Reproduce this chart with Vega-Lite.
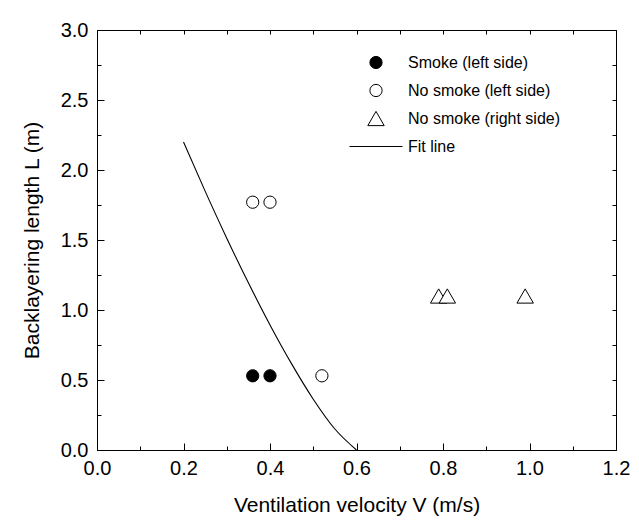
{
  "$schema": "https://vega.github.io/schema/vega-lite/v6.json",
  "width": 519,
  "height": 420,
  "autosize": {"type": "none"},
  "padding": {"left": 97, "top": 30, "right": 23, "bottom": 80},
  "background": "white",
  "config": {
    "font": "Liberation Sans",
    "view": {"stroke": "black", "strokeWidth": 1},
    "axis": {
      "grid": false,
      "domain": false,
      "tickColor": "black",
      "tickWidth": 1,
      "labelColor": "black",
      "titleColor": "black",
      "labelFont": "Liberation Sans",
      "titleFont": "Liberation Sans",
      "titleFontWeight": "normal",
      "labelFlush": false,
      "labelOverlap": false
    }
  },
  "layer": [
    {
      "data": {
        "values": [
          {"v": 0.2, "L": 2.2},
          {"v": 0.25, "L": 1.849},
          {"v": 0.3, "L": 1.513},
          {"v": 0.35, "L": 1.194},
          {"v": 0.4, "L": 0.893},
          {"v": 0.45, "L": 0.615},
          {"v": 0.5, "L": 0.363},
          {"v": 0.55, "L": 0.15},
          {"v": 0.6, "L": 0.0}
        ]
      },
      "mark": {"type": "line", "color": "black", "strokeWidth": 1.1, "interpolate": "monotone"},
      "encoding": {
        "x": {
          "field": "v",
          "type": "quantitative",
          "scale": {"domain": [0, 1.2], "nice": false, "zero": false},
          "axis": {
            "orient": "bottom",
            "values": [0, 0.1, 0.2, 0.3, 0.4, 0.5, 0.6, 0.7, 0.8, 0.9, 1.0, 1.1, 1.2],
            "tickSize": {"condition": {"test": "round(datum.value*10)%2==0", "value": -7}, "value": -4},
            "labelExpr": "round(datum.value*10)%2==0 ? format(datum.value,'.1f') : ''",
            "labelFontSize": 20,
            "labelPadding": 15,
            "title": "Ventilation velocity V (m/s)",
            "titleFontSize": 21,
            "titlePadding": 13
          }
        },
        "y": {
          "field": "L",
          "type": "quantitative",
          "scale": {"domain": [0, 3], "nice": false, "zero": false},
          "axis": {
            "orient": "left",
            "values": [0, 0.25, 0.5, 0.75, 1.0, 1.25, 1.5, 1.75, 2.0, 2.25, 2.5, 2.75, 3.0],
            "tickSize": {"condition": {"test": "round(datum.value*4)%2==0", "value": -7}, "value": -4},
            "labelExpr": "round(datum.value*4)%2==0 ? format(datum.value,'.1f') : ''",
            "labelFontSize": 20,
            "labelPadding": 16,
            "title": "Backlayering length L (m)",
            "titleFontSize": 21,
            "titlePadding": 18
          }
        }
      }
    },
    {
      "data": {
        "values": [
          {"v": 0.36, "L": 0.53, "series": "Smoke (left side)"},
          {"v": 0.40, "L": 0.53, "series": "Smoke (left side)"},
          {"v": 0.36, "L": 1.77, "series": "No smoke (left side)"},
          {"v": 0.40, "L": 1.77, "series": "No smoke (left side)"},
          {"v": 0.52, "L": 0.53, "series": "No smoke (left side)"},
          {"v": 0.79, "L": 1.1, "series": "No smoke (right side)"},
          {"v": 0.81, "L": 1.1, "series": "No smoke (right side)"},
          {"v": 0.99, "L": 1.1, "series": "No smoke (right side)"}
        ]
      },
      "mark": {"type": "point", "stroke": "black", "strokeWidth": 1, "opacity": 1, "fillOpacity": 1},
      "encoding": {
        "x": {
          "field": "v",
          "type": "quantitative",
          "axis": {
            "orient": "top",
            "values": [0, 0.1, 0.2, 0.3, 0.4, 0.5, 0.6, 0.7, 0.8, 0.9, 1.0, 1.1, 1.2],
            "tickSize": -4,
            "labels": false,
            "title": null
          }
        },
        "y": {
          "field": "L",
          "type": "quantitative",
          "axis": {
            "orient": "right",
            "values": [0, 0.25, 0.5, 0.75, 1.0, 1.25, 1.5, 1.75, 2.0, 2.25, 2.5, 2.75, 3.0],
            "tickSize": -4,
            "labels": false,
            "title": null
          }
        },
        "shape": {
          "field": "series",
          "type": "nominal",
          "scale": {
            "domain": ["Smoke (left side)", "No smoke (left side)", "No smoke (right side)", "Fit line"],
            "range": ["circle", "circle", "triangle-up", "stroke"]
          },
          "legend": {
            "title": null,
            "orient": "none",
            "legendX": 252,
            "legendY": 24,
            "labelFontSize": 16,
            "labelFont": "Liberation Sans",
            "labelColor": "black",
            "labelOffset": 5,
            "rowPadding": 11,
            "clipHeight": 17,
            "padding": 0,
            "symbolStrokeColor": "black",
            "symbolStrokeWidth": 1
          }
        },
        "fill": {
          "field": "series",
          "type": "nominal",
          "scale": {
            "domain": ["Smoke (left side)", "No smoke (left side)", "No smoke (right side)", "Fit line"],
            "range": ["black", "white", "white", "white"]
          }
        },
        "size": {
          "field": "series",
          "type": "nominal",
          "scale": {
            "type": "ordinal",
            "domain": ["Smoke (left side)", "No smoke (left side)", "No smoke (right side)", "Fit line"],
            "range": [150, 150, 270, 2809]
          }
        }
      }
    }
  ],
  "resolve": {"axis": {"x": "independent", "y": "independent"}}
}
